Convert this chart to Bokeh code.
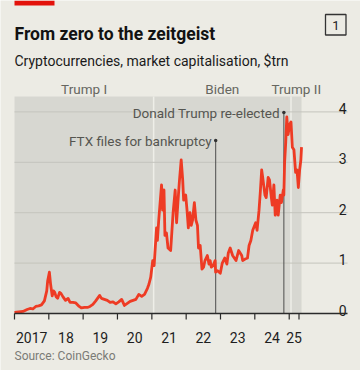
import pandas as pd
from bokeh.plotting import figure
from bokeh.models import Range1d, ColumnDataSource
from bokeh.core.properties import value
from bokeh.embed import file_html
from bokeh.resources import INLINE

# ---------------- data ----------------
dates = [
    "2017-01-01", "2017-02-15", "2017-04-01", "2017-05-15", "2017-06-15", "2017-07-15",
    "2017-08-15", "2017-09-15", "2017-10-15", "2017-11-15", "2017-12-10", "2017-12-20",
    "2018-01-07", "2018-01-20", "2018-02-06", "2018-02-20", "2018-03-05", "2018-03-20",
    "2018-04-05", "2018-04-25", "2018-05-10", "2018-06-01", "2018-06-28", "2018-07-25",
    "2018-08-15", "2018-09-15", "2018-10-15", "2018-11-20", "2018-12-15", "2019-01-15",
    "2019-02-15", "2019-03-15", "2019-04-15", "2019-05-15", "2019-06-26", "2019-07-15",
    "2019-08-15", "2019-09-15", "2019-10-15", "2019-11-15", "2019-12-15", "2020-01-15",
    "2020-02-15", "2020-03-15", "2020-04-15", "2020-05-15", "2020-06-15", "2020-07-15",
    "2020-08-15", "2020-09-15", "2020-10-15", "2020-11-15", "2020-12-01", "2020-12-20",
    "2021-01-10", "2021-01-25", "2021-02-20", "2021-03-01", "2021-03-15", "2021-04-14",
    "2021-04-25", "2021-05-10", "2021-05-20", "2021-06-05", "2021-06-22", "2021-07-20",
    "2021-08-15", "2021-09-06", "2021-09-21", "2021-10-05", "2021-10-20", "2021-11-09",
    "2021-11-25", "2021-12-05", "2021-12-27", "2022-01-10", "2022-01-24", "2022-02-10",
    "2022-02-24", "2022-03-10", "2022-03-29", "2022-04-15", "2022-05-01", "2022-05-12",
    "2022-05-30", "2022-06-18", "2022-07-05", "2022-07-20", "2022-08-14", "2022-09-01",
    "2022-09-13", "2022-09-25", "2022-10-15", "2022-11-05", "2022-11-10", "2022-12-01",
    "2022-12-30", "2023-01-20", "2023-02-15", "2023-03-10", "2023-03-25", "2023-04-14",
    "2023-05-10", "2023-06-15", "2023-07-13", "2023-08-15", "2023-08-25", "2023-09-20",
    "2023-10-15", "2023-11-01", "2023-11-20", "2023-12-10", "2024-01-10", "2024-01-25",
    "2024-02-15", "2024-03-01", "2024-03-14", "2024-03-25", "2024-04-18", "2024-05-01",
    "2024-05-22", "2024-06-05", "2024-06-25", "2024-07-05", "2024-07-22", "2024-08-05",
    "2024-08-25", "2024-09-06", "2024-09-27", "2024-10-10", "2024-10-30", "2024-11-05",
    "2024-11-13", "2024-11-25", "2024-12-06", "2024-12-20", "2025-01-06", "2025-01-20",
    "2025-02-03", "2025-02-20", "2025-03-10", "2025-03-25", "2025-04-08", "2025-04-22",
    "2025-05-05", "2025-05-12",
]
market_cap_trn = [
    0.02, 0.03, 0.04, 0.08, 0.10, 0.09,
    0.14, 0.15, 0.17, 0.25, 0.45, 0.65,
    0.82, 0.58, 0.35, 0.45, 0.42, 0.33,
    0.30, 0.42, 0.40, 0.33, 0.26, 0.30,
    0.22, 0.22, 0.21, 0.14, 0.11, 0.12,
    0.12, 0.14, 0.18, 0.25, 0.36, 0.30,
    0.28, 0.26, 0.22, 0.23, 0.19, 0.23,
    0.28, 0.16, 0.20, 0.24, 0.26, 0.28,
    0.38, 0.34, 0.38, 0.50, 0.58, 0.72,
    1.05, 0.95, 1.70, 1.45, 1.85, 2.55,
    2.05, 2.45, 1.55, 1.60, 1.30, 1.25,
    2.00, 2.45, 1.80, 2.20, 2.60, 3.05,
    2.65, 2.25, 2.35, 2.05, 1.70, 2.00,
    1.75, 1.85, 2.20, 1.85, 1.75, 1.30,
    1.35, 0.88, 0.92, 1.05, 1.15, 0.98,
    1.05, 0.92, 0.95, 1.05, 0.82, 0.85,
    0.80, 1.00, 1.10, 0.98, 1.20, 1.30,
    1.15, 1.05, 1.25, 1.15, 1.05, 1.08,
    1.10, 1.35, 1.45, 1.65, 1.80, 1.65,
    2.05, 2.45, 2.85, 2.70, 2.35, 2.30,
    2.70, 2.65, 2.30, 2.15, 2.55, 1.95,
    2.25, 1.95, 2.35, 2.20, 2.45, 2.35,
    3.00, 3.40, 3.90, 3.55, 3.75, 3.80,
    3.30, 3.25, 2.80, 2.85, 2.50, 2.85,
    3.05, 3.30,
]

term_names = ["Trump I", "Biden", "Trump II"]
term_starts = ["2017-01-20", "2021-01-20", "2025-01-20"]

event_labels = ["FTX files for bankruptcy", "Donald Trump re-elected"]
event_dates = ["2022-11-11", "2024-11-05"]

y_ticks = [0, 1, 2, 3, 4]
y_tick_labels = ["0", "1", "2", "3", "4"]

x_ticks = ["2017-01-01", "2018-01-01", "2019-01-01", "2020-01-01", "2021-01-01",
           "2022-01-01", "2023-01-01", "2024-01-01", "2025-01-01", "2025-04-15"]
x_tick_labels = ["2017", "18", "19", "20", "21", "22", "23", "24", "25"]

title = "From zero to the zeitgeist"
subtitle = "Cryptocurrencies, market capitalisation, $trn"
source_note = "Source: CoinGecko"
chart_number = "1"

# ---------------- layout helpers (page pixels -> data) ----------------
W, H = 360, 370
MARGIN = 0
X0_PX, PX_PER_YEAR = 14.0, 34.34
Y0_PX, PX_PER_UNIT = 313.0, 50.4
MS_PER_YEAR = 365.25 * 86400000.0
T0 = pd.Timestamp(dates[0]).value / 1e6


def px_x(page_x):
    return T0 + (page_x - X0_PX) / PX_PER_YEAR * MS_PER_YEAR


def px_y(page_y):
    return (Y0_PX - page_y) / PX_PER_UNIT


def ms(d):
    return pd.Timestamp(d).value / 1e6


BG = "#ecebe4"
SHADE = "#d7d7d1"
RED = "#ee3b24"
FONT = value("Roboto")

p = figure(width=W, height=H, output_backend="svg", toolbar_location=None,
           x_range=Range1d(px_x(MARGIN), px_x(MARGIN + W)),
           y_range=Range1d(px_y(MARGIN + H), px_y(MARGIN)),
           x_axis_location=None, y_axis_location=None, min_border=0)
p.background_fill_color = BG
p.border_fill_color = BG
p.outline_line_color = None
p.xgrid.visible = False
p.ygrid.visible = False

end_ms = ms(dates[-1])
shade_top = px_y(96)

# term shading
lefts = [ms(dates[0])] + [ms(d) for d in term_starts[1:]]
rights = [ms(d) for d in term_starts[1:]] + [end_ms]
p.quad(left=lefts, right=rights, bottom=0, top=shade_top, fill_color=SHADE, line_color=None)
# separators between terms
p.segment(x0=[ms(d) for d in term_starts[1:]], x1=[ms(d) for d in term_starts[1:]],
          y0=0, y1=shade_top, line_color="#eeeee8", line_width=1.5)

# gridlines
grid_vals = [v for v in y_ticks if v != 0]
p.segment(x0=ms(dates[0]), x1=px_x(347), y0=grid_vals, y1=grid_vals,
          line_color="#c4c4bd", line_width=1)

# y labels above gridlines, right aligned
p.text(x=px_x(346), y=[v + 3.4 / PX_PER_UNIT for v in y_ticks], text=y_tick_labels,
       text_align="right", text_baseline="alphabetic", text_font=FONT,
       text_font_size="14px", text_color="#1e1e1e")

# event lines
ev_x = [ms(d) for d in event_dates]
ev_top = [px_y(140), px_y(112)]
p.segment(x0=ev_x, x1=ev_x, y0=0, y1=ev_top, line_color="#4d4d4d", line_width=1)

# market cap line
src = ColumnDataSource(dict(x=pd.to_datetime(dates), y=market_cap_trn))
p.line("x", "y", source=src, line_color=RED, line_width=2.8, line_join="round")

# event dots and labels
p.scatter(x=ev_x, y=ev_top, size=3.5, fill_color="#333333", line_color=None)
p.text(x=ev_x, y=ev_top, text=event_labels, x_offset=-4, text_align="right",
       text_baseline="middle", text_font=FONT, text_font_size="13.5px",
       text_color="#555550")

# x axis
p.segment(x0=ms(dates[0]), x1=px_x(347), y0=0, y1=0, line_color="#2a2a2a", line_width=1.3)
xt = [ms(d) for d in x_ticks]
p.segment(x0=xt, x1=xt, y0=0, y1=px_y(319), line_color="#2a2a2a", line_width=1.2)
mids = [(a + b) / 2 for a, b in zip(xt[:-1], xt[1:])]
p.text(x=mids, y=px_y(336.7), text=x_tick_labels, text_align="center",
       text_baseline="alphabetic", text_font=FONT, text_font_size="14px",
       text_color="#1e1e1e")

# term labels
term_mid = [(a + b) / 2 for a, b in zip(lefts, rights)]
p.text(x=term_mid, y=px_y(88.3), text=term_names, text_align="center",
       text_baseline="alphabetic", text_font=FONT, text_font_size="13.5px",
       text_color="#66665f")

# titles
p.quad(left=px_x(14), right=px_x(54), bottom=px_y(5), top=px_y(0), fill_color="#e3120b",
       line_color=None)
p.text(x=px_x(14), y=px_y(33.3), text=[title], text_baseline="alphabetic",
       text_font=FONT, text_font_style="bold", text_font_size="17.5px", text_color="#121212")
p.text(x=px_x(14), y=px_y(60.5), text=[subtitle], text_baseline="alphabetic",
       text_font=FONT, text_font_size="14px", text_color="#1a1a1a")
p.quad(left=px_x(325), right=px_x(345.5), bottom=px_y(34.5), top=px_y(14),
       fill_color=None, line_color="#333333", line_width=1.3)
p.text(x=px_x(335.3), y=px_y(24.5), text=[chart_number], text_align="center",
       text_baseline="middle", text_font=FONT, text_font_size="13px", text_color="#222222")
p.text(x=px_x(14), y=px_y(355.5), text=[source_note], text_baseline="alphabetic",
       text_font=FONT, text_font_size="12px", text_color="#7b7b76")

open("out.html", "w").write(file_html(p, INLINE))
